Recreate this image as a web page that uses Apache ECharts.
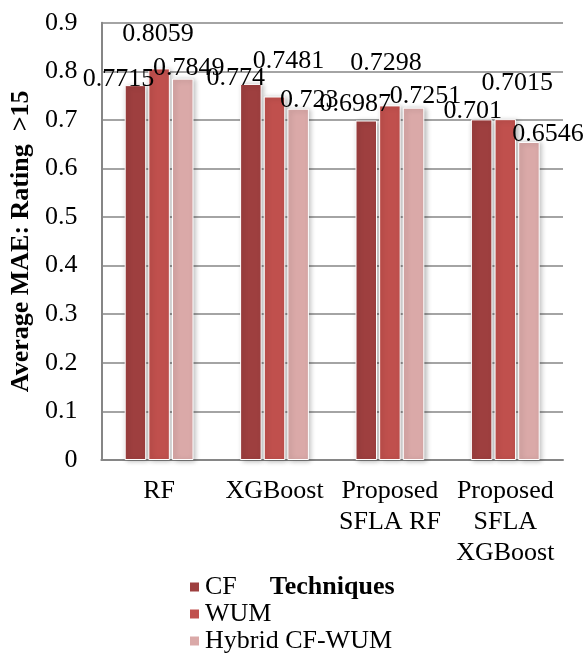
<!DOCTYPE html>
<html>
<head>
<meta charset="utf-8">
<script src="https://cdn.jsdelivr.net/npm/echarts@6/dist/echarts.min.js"></script>
<style>
  html, body { margin: 0; padding: 0; background: #fff; }
  #chart { width: 585px; height: 653px; }
</style>
</head>
<body>
<div id="chart"></div>
<script>
// Mean absolute error for ratings above 15, per technique and method
const categories = ['RF', 'XGBoost', 'Proposed\nSFLA RF', 'Proposed\nSFLA\nXGBoost'];
const seriesNames = ['CF', 'WUM', 'Hybrid CF-WUM'];
const cfValues = [0.7715, 0.774, 0.6987, 0.701];
const wumValues = [0.8059, 0.7481, 0.7298, 0.7015];
const hybridValues = [0.7849, 0.723, 0.7251, 0.6546];
const yTicks = { min: 0, max: 0.9, interval: 0.1 };

// Hand-placed label nudges [dx, dy] so the overlapping value labels stay readable
const labelNudges = [
  [[-17, 12], [-15, 12], [-11, 2], [-9, 10]],
  [[-1, -16], [14, -17], [-4, -24], [12, -18]],
  [[6, 8], [11, 9], [12, 6], [19, 10]]
];

const colors = ['#9e3f3f', '#c0504d', '#daa9a8'];
const serif = '"Liberation Serif", "Times New Roman", serif';

function buildSeries(name, values, idx) {
  return {
    name: name,
    type: 'bar',
    barWidth: 21.5,
    barGap: '10%',
    itemStyle: {
      color: colors[idx],
      borderColor: '#ffffff',
      borderWidth: 1,
      shadowBlur: 5,
      shadowColor: 'rgba(0,0,0,0.28)',
      shadowOffsetX: 2,
      shadowOffsetY: 1
    },
    label: {
      show: true,
      position: 'top',
      distance: 5,
      color: '#000',
      fontFamily: serif,
      fontSize: 26
    },
    data: values.map((v, i) => ({
      value: v,
      label: { offset: labelNudges[idx][i] }
    }))
  };
}

const chart = echarts.init(document.getElementById('chart'), null, { renderer: 'canvas' });
chart.setOption({
  animation: false,
  backgroundColor: '#ffffff',
  textStyle: { fontFamily: serif },
  grid: { left: 101, right: 22, top: 22.7, bottom: 193, containLabel: false },
  legend: {
    orient: 'vertical',
    left: 188,
    top: 574,
    width: 260,
    height: 120,
    itemWidth: 11,
    itemHeight: 11,
    itemGap: 1,
    icon: 'rect',
    padding: 0,
    textStyle: { fontFamily: serif, fontSize: 26, color: '#000' },
    data: seriesNames
  },
  xAxis: {
    type: 'category',
    data: categories,
    name: 'Techniques',
    nameLocation: 'middle',
    nameGap: 104,
    nameTextStyle: { fontFamily: serif, fontSize: 26, fontWeight: 'bold', color: '#000' },
    axisLine: { show: true, lineStyle: { color: '#868686', width: 2 } },
    axisTick: { show: false },
    axisLabel: {
      interval: 0,
      margin: 16,
      fontFamily: serif,
      fontSize: 26,
      lineHeight: 31,
      color: '#000'
    }
  },
  yAxis: {
    type: 'value',
    min: yTicks.min,
    max: yTicks.max,
    interval: yTicks.interval,
    name: 'Average MAE: Rating  >15',
    nameLocation: 'middle',
    nameGap: 66,
    nameTextStyle: { fontFamily: serif, fontSize: 26, fontWeight: 'bold', color: '#000' },
    axisLine: { show: true, lineStyle: { color: '#868686', width: 2 } },
    axisTick: { show: false },
    axisLabel: {
      margin: 24,
      fontFamily: serif,
      fontSize: 26,
      color: '#000',
      formatter: v => String(Math.round(v * 10) / 10)
    },
    splitLine: { show: true, lineStyle: { color: '#868686', width: 1.5 } }
  },
  series: [
    buildSeries(seriesNames[0], cfValues, 0),
    buildSeries(seriesNames[1], wumValues, 1),
    buildSeries(seriesNames[2], hybridValues, 2)
  ]
});
</script>
</body>
</html>
